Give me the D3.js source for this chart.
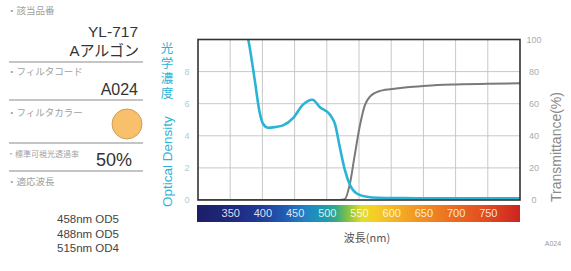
<!DOCTYPE html>
<html><head><meta charset="utf-8">
<script src="https://cdn.jsdelivr.net/npm/d3@7"></script>
<style>
html,body{margin:0;padding:0;background:#fff;}
svg{display:block;font-family:"Liberation Sans","Noto Sans CJK JP",sans-serif;}
</style></head>
<body>
<svg id="c" width="571" height="271"></svg>
<script>
// ---- data ----
const odWavelengths = [370, 378, 388, 396, 401, 409, 420, 432, 448, 463, 478, 489, 505, 513, 520, 528, 536, 546, 562, 580, 620, 700, 800];
const odValues      = [11, 10, 7.5, 5.4, 4.75, 4.5, 4.55, 4.65, 5.12, 5.94, 6.25, 5.79, 5.31, 4.69, 3.33, 1.88, 0.94, 0.42, 0.2, 0.14, 0.12, 0.1, 0.1];
const tWavelengths  = [300, 520, 528, 536, 543, 551, 559, 567, 583, 608, 655, 700, 750, 800];
const tValues       = [0, 0, 0.5, 10.4, 27, 45.6, 59, 64.4, 68, 69.5, 71.2, 72, 72.5, 72.7];
const odTicks = [0, 2, 4, 6, 8];
const tTicks = [0, 20, 40, 60, 80, 100];
const wlTicks = [350, 400, 450, 500, 550, 600, 650, 700, 750];
const adaptLines = ["458nm OD5", "488nm OD5", "515nm OD4"];
const odTitleJa = ["光", "学", "濃", "度"];
const info = {partNo: "YL-717", partName: "Aアルゴン", code: "A024", transmit: "50%"};
const specLabels = ["・該当品番", "・フィルタコード", "・フィルタカラー", "・標準可視光透過率", "・適応波長"];
const spectrumStops = [[300,"#1c1f66"],[360,"#1f2a82"],[400,"#203c98"],[440,"#2160b6"],[470,"#2184c4"],[495,"#1c9ab0"],[515,"#34a88a"],[535,"#8cc43e"],[555,"#e2dc2e"],[575,"#f4cf24"],[610,"#f4b024"],[650,"#f08e22"],[700,"#ea6a20"],[750,"#e04a20"],[800,"#cc2422"]];

const svg = d3.select("#c");
const x = d3.scaleLinear().domain([300, 800]).range([198, 520]);
const yOD = d3.scaleLinear().domain([0, 10]).range([200, 39.5]);
const yT = d3.scaleLinear().domain([0, 100]).range([200, 39.5]);

// grid
const grid = svg.append("g");
grid.selectAll("line.v").data(d3.range(350, 800, 50)).join("line")
  .attr("x1", d => x(d)).attr("x2", d => x(d)).attr("y1", yOD(10)).attr("y2", yOD(0))
  .attr("stroke", "#c8c8c8").attr("stroke-width", 1);
grid.selectAll("line.h").data([2,4,6,8]).join("line")
  .attr("y1", d => yOD(d)).attr("y2", d => yOD(d)).attr("x1", x(300)).attr("x2", x(800))
  .attr("stroke", "#c8c8c8").attr("stroke-width", 1);

// clip
svg.append("clipPath").attr("id","clip").append("rect")
  .attr("x", x(300)).attr("y", yOD(10)).attr("width", x(800)-x(300)).attr("height", yOD(0)-yOD(10));

const tLine = d3.line().x((d,i)=>x(tWavelengths[i])).y(d=>yT(d)).curve(d3.curveMonotoneX);
const odLine = d3.line().x((d,i)=>x(odWavelengths[i])).y(d=>yOD(d)).curve(d3.curveMonotoneX);
svg.append("path").datum(tValues).attr("d", tLine).attr("fill","none")
  .attr("stroke","#7a7a7a").attr("stroke-width",2).attr("clip-path","url(#clip)");
svg.append("path").datum(odValues).attr("d", odLine).attr("fill","none")
  .attr("stroke","#2bb3d6").attr("stroke-width",2.6).attr("clip-path","url(#clip)");

// frame
svg.append("rect").attr("x", x(300)).attr("y", yOD(10)).attr("width", x(800)-x(300)).attr("height", yOD(0)-yOD(10))
  .attr("fill","none").attr("stroke","#333").attr("stroke-width",1.6);

// left axis
const axL = d3.axisLeft(yOD).tickValues(odTicks).tickSize(0).tickPadding(10);
const gL = svg.append("g").attr("transform", `translate(${x(300)},0)`).call(axL);
gL.select(".domain").remove();
gL.selectAll("text").attr("fill","#a9cdd6").attr("font-size",9).attr("text-anchor","middle").attr("dx", 0).attr("x", -11);

// right axis
const axR = d3.axisRight(yT).tickValues(tTicks).tickSize(0).tickFormat(d3.format("d"));
const gR = svg.append("g").attr("transform", `translate(${x(800)},0)`).call(axR);
gR.select(".domain").remove();
gR.selectAll("text").attr("fill","#aaaaaa").attr("font-size",9).attr("text-anchor","middle").attr("x", 14);

// left axis title
svg.append("text").attr("transform","translate(172,207) rotate(-90)")
  .attr("fill","#2bb3d6").attr("font-size",13.5).text("Optical Density");
svg.selectAll("text.jp").data(odTitleJa).join("text").attr("class","jp")
  .attr("x",167).attr("y",(d,i)=>53+i*15).attr("text-anchor","middle")
  .attr("fill","#2bb3d6").attr("font-size",12.5).text(d=>d);

// right axis title
svg.append("text").attr("transform","translate(561,147) rotate(-90)").attr("text-anchor","middle")
  .attr("fill","#8a8a8a").attr("font-size",14).text("Transmittance(%)");

// spectrum bar
const defs = svg.append("defs");
const grad = defs.append("linearGradient").attr("id","spec").attr("x1","0%").attr("x2","100%");
grad.selectAll("stop").data(spectrumStops).join("stop")
  .attr("offset", d => ((d[0]-300)/500*100)+"%").attr("stop-color", d => d[1]);
svg.append("rect").attr("x", x(300)-1).attr("y",205).attr("width", x(800)-x(300)+1).attr("height",17).attr("fill","url(#spec)");
const axB = d3.axisBottom(x).tickValues(wlTicks).tickSize(0);
const gB = svg.append("g").attr("transform","translate(0,205)").call(axB);
gB.select(".domain").remove();
gB.selectAll("text").attr("fill","#ffffff").attr("fill-opacity",0.85).attr("font-size",11).attr("y",4).attr("dy","0.71em");

svg.append("text").attr("x",367).attr("y",242).attr("text-anchor","middle").attr("fill","#555")
  .attr("font-size",11).attr("font-family","Noto Sans CJK JP").text("波長(nm)");
svg.append("text").attr("x",553).attr("y",246).attr("text-anchor","middle").attr("fill","#999")
  .attr("font-size",7).text(info.code);

// left panel
const lp = svg.append("g");
const lab = (t, y) => lp.append("text").attr("x",7).attr("y",y).attr("fill","#a0a0a0")
  .attr("font-size", t.length > 8 ? 8 : 9.5).attr("font-family","Noto Sans CJK JP").text(t);
lab(specLabels[0], 14);
lp.append("text").attr("x",138).attr("y",37).attr("text-anchor","end").attr("fill","#333").attr("font-size",15.5).text(info.partNo);
lp.append("text").attr("x",139).attr("y",56).attr("text-anchor","end").attr("fill","#333").attr("font-size",15)
  .attr("font-family","Liberation Sans, Noto Sans CJK JP").text(info.partName);
[62, 100, 143, 171].forEach(y => lp.append("line").attr("x1",9).attr("x2",143).attr("y1",y).attr("y2",y).attr("stroke","#8a8a8a").attr("stroke-width",1));
lab(specLabels[1], 75);
lp.append("text").attr("x",138).attr("y",95).attr("text-anchor","end").attr("fill","#333").attr("font-size",16).text(info.code);
lab(specLabels[2], 116);
lp.append("circle").attr("cx",127).attr("cy",124).attr("r",15).attr("fill","#f8c06a").attr("stroke","#c49048").attr("stroke-width",0.8);
lab(specLabels[3], 157);
lp.append("text").attr("x",132).attr("y",166).attr("text-anchor","end").attr("fill","#333").attr("font-size",18).text(info.transmit);
lab(specLabels[4], 185);
lp.selectAll("text.ad").data(adaptLines).join("text").attr("class","ad")
  .attr("x",88).attr("y",(d,i)=>223+i*14.5).attr("text-anchor","middle").attr("fill","#444").attr("font-size",11.5).text(d=>d);
</script>
</body></html>
